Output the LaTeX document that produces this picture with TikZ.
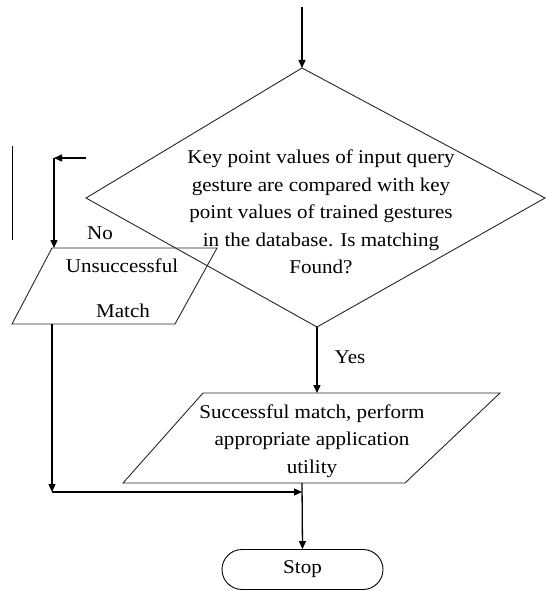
\documentclass[tikz,border=0pt]{standalone}
\usepackage{fontspec}
\setmainfont[FakeStretch=1.08]{Liberation Serif}
\usetikzlibrary{arrows.meta}
\begin{document}
\begin{tikzpicture}[x=1pt,y=-1pt,
  shapeline/.style={line width=0.9pt, draw=black!85},
  conn/.style={line width=1.3pt, -{Triangle[length=8pt,width=7pt]}},
  txt/.style={align=center, inner sep=0pt, font=\fontsize{19.5}{27.5}\selectfont}]
\useasboundingbox (0,0) rectangle (548,591);
% diamond
\coordinate (dT) at (302,68);
\coordinate (dL) at (86,198);
\coordinate (dR) at (545,198);
\coordinate (dB) at (317,327);
\draw[shapeline] (dT) -- (dR) -- (dB) -- (dL) -- cycle;
\node[txt] (dtext) at (321,212) {Key point values of input query\\gesture are compared with key\\point values of trained gestures\\in the database. Is matching\\Found?};
% top incoming arrow
\coordinate (top) at (302,7);
\draw[conn] (top) -- (dT);
% stray vertical line
\coordinate (s1) at (12,146);
\coordinate (s2) at (12,240);
\draw[line width=1pt] (s1) -- (s2);
% No branch
\coordinate (n0) at (86,158);
\coordinate (n1) at (54,158);
\draw[conn] (n0) -- (n1);
\node[txt] (no) at (100,233) {No};
% Unsuccessful parallelogram
\coordinate (uTL) at (52,248);
\coordinate (uTR) at (217,248);
\coordinate (uBR) at (175,324);
\coordinate (uBL) at (12,324);
\draw[shapeline] (uTL) -- (uTR) -- (uBR) -- (uBL) -- cycle;
\node[txt] (u1) at (122,266) {Unsuccessful};
\node[txt] (u2) at (123,311) {Match};
\coordinate (uIn) at (54,248);
\draw[conn] (n1) -- (uIn);
% Yes branch
\coordinate (sIn) at (317,393);
\draw[conn] (dB) -- (sIn);
\node[txt] (yes) at (350,357) {Yes};
% Successful parallelogram
\coordinate (sTL) at (203,393);
\coordinate (sTR) at (500,393);
\coordinate (sBR) at (405,483);
\coordinate (sBL) at (123,483);
\draw[shapeline] (sTL) -- (sTR) -- (sBR) -- (sBL) -- cycle;
\node[txt] (stext) at (312,441) {Successful match, perform\\appropriate application\\utility};
% merge
\coordinate (uOut) at (52,324);
\coordinate (mL) at (52,492);
\coordinate (mR) at (302,492);
\coordinate (sOut) at (302,483);
\draw[conn] (uOut) -- (mL);
\draw[conn] (mL) -- (mR);
% stop
\node[draw, line width=0.9pt, rounded corners=20pt, minimum width=161pt, minimum height=40pt, inner sep=0pt, font=\fontsize{19.5}{22}\selectfont] (stop) at (302.5,569.5) {Stop};
\draw[conn] (sOut) -- (stop.north);
\end{tikzpicture}
\end{document}
